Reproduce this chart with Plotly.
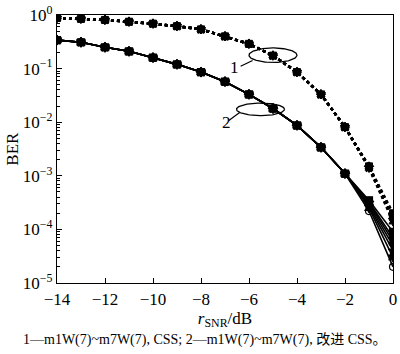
import numpy as np
import plotly.graph_objects as go

# ---------------- data ----------------
snr = list(range(-14, 1))

# group 1: m1W(7)~m7W(7), CSS  (dotted)
css_head = [0.88, 0.85, 0.81, 0.75, 0.69, 0.62, 0.54, 0.40, 0.29, 0.175, 0.086, 0.033, 0.0081]
css_tail = [[0.0015, 2.0e-4], [0.0015, 1.85e-4], [0.00148, 1.75e-4], [0.00145, 1.65e-4],
            [0.00145, 1.6e-4], [0.0014, 1.5e-4], [0.0014, 1.4e-4]]

# group 2: m1W(7)~m7W(7), improved CSS (solid)
icss_head = [0.34, 0.31, 0.25, 0.21, 0.16, 0.12, 0.086, 0.057, 0.033, 0.018, 0.0087, 0.0034, 0.0011]
icss_tail = [[3.5e-4, 9e-5], [3.3e-4, 7e-5], [3.1e-4, 6e-5], [2.9e-4, 5e-5],
             [2.7e-4, 4e-5], [2.5e-4, 3e-5], [2.2e-4, 2e-5]]

symbols = ["square", "diamond", "triangle-up", "triangle-down", "circle", "star", "hexagram"]
symbols2 = ["square", "diamond", "triangle-up", "triangle-down", "star", "hexagram", "circle-open"]

ytick_vals = [1e-5, 1e-4, 1e-3, 1e-2, 1e-1, 1e0]
ytick_text = ["10<sup>−5</sup>", "10<sup>−4</sup>", "10<sup>−3</sup>", "10<sup>−2</sup>",
              "10<sup>−1</sup>", "10<sup>0</sup>"]
xtick_vals = [-14, -12, -10, -8, -6, -4, -2, 0]
xtick_text = ["−14", "−12", "−10", "−8", "−6", "−4", "−2", "0"]

# ellipse annotations
ell1 = dict(cx=-5.0, cy=-0.75, rx=1.0, ry=0.135)
ell2 = dict(cx=-5.52, cy=-1.76, rx=1.0, ry=0.117)
lab1 = dict(text="1", x=-6.62, ly=-0.975, lx=[-6.35, -5.85], lyy=[-0.957, -0.85])
lab2 = dict(text="2", x=-6.95, ly=-2.0, lx=[-6.84, -6.39], lyy=[-1.97, -1.82])

caption = "1—m1W(7)~m7W(7), CSS; 2—m1W(7)~m7W(7), 改进 CSS。"

FONT = "Liberation Serif"

fig = go.Figure()

for i, tail in enumerate(css_tail):
    fig.add_trace(go.Scatter(
        x=snr, y=css_head + tail, mode="lines+markers",
        line=dict(color="black", width=2.5, dash="dot"),
        marker=dict(symbol=symbols[i], size=7, color="black",
                    line=dict(color="black", width=1)),
        showlegend=False))

for i, tail in enumerate(icss_tail):
    fig.add_trace(go.Scatter(
        x=snr, y=icss_head + tail, mode="lines+markers",
        line=dict(color="black", width=1.6),
        marker=dict(symbol=symbols2[i], size=7, color="black",
                    line=dict(color="black", width=1.2)),
        showlegend=False))

t = np.linspace(0, 2 * np.pi, 120)
for e in (ell1, ell2):
    fig.add_trace(go.Scatter(
        x=e["cx"] + e["rx"] * np.cos(t), y=10 ** (e["cy"] + e["ry"] * np.sin(t)),
        mode="lines", line=dict(color="black", width=1.3), showlegend=False,
        hoverinfo="skip"))

for lab in (lab1, lab2):
    fig.add_trace(go.Scatter(
        x=lab["lx"], y=[10 ** v for v in lab["lyy"]], mode="lines",
        line=dict(color="black", width=1.2), showlegend=False, hoverinfo="skip"))
    fig.add_annotation(x=lab["x"], y=lab["ly"], xref="x", yref="y", text=lab["text"],
                       showarrow=False, font=dict(family=FONT, size=17, color="black"))

fig.add_annotation(x=0.44, y=-0.213, xref="paper", yref="paper", xanchor="center",
                   yanchor="middle", text=caption, showarrow=False,
                   font=dict(family=FONT + ", Noto Sans CJK SC", size=14, color="black"))

fig.add_annotation(x=-0.135, y=0.5, xref="paper", yref="paper", text="BER",
                   textangle=-90, showarrow=False, xanchor="center", yanchor="middle",
                   font=dict(family=FONT, size=17, color="black"))

fig.update_layout(
    width=400, height=354,
    margin=dict(l=57, r=3, t=6, b=71),
    paper_bgcolor="white", plot_bgcolor="white",
    font=dict(family=FONT, size=17, color="black"),
    xaxis=dict(range=[-14, 0], tickvals=xtick_vals, ticktext=xtick_text,
               ticks="inside", ticklen=5, tickwidth=1, tickcolor="black",
               showline=True, linecolor="black", linewidth=1.3, mirror=True,
               showgrid=False, zeroline=False, ticklabeloverflow="allow",
               title=dict(text="<i>r</i><sub>SNR</sub>/dB", standoff=2,
                          font=dict(family=FONT, size=17))),
    yaxis=dict(type="log", range=[-5.0001, 0.0001], tickvals=ytick_vals, ticktext=ytick_text,
               ticks="inside", ticklen=5, tickwidth=1, tickcolor="black",
               showline=True, linecolor="black", linewidth=1.3, mirror=True,
               showgrid=False, zeroline=False, ticklabeloverflow="allow",
               minor=dict(ticks="inside", ticklen=3, tickcolor="black", dtick="D1",
                          showgrid=False)),
)

fig.write_html("out.html")
